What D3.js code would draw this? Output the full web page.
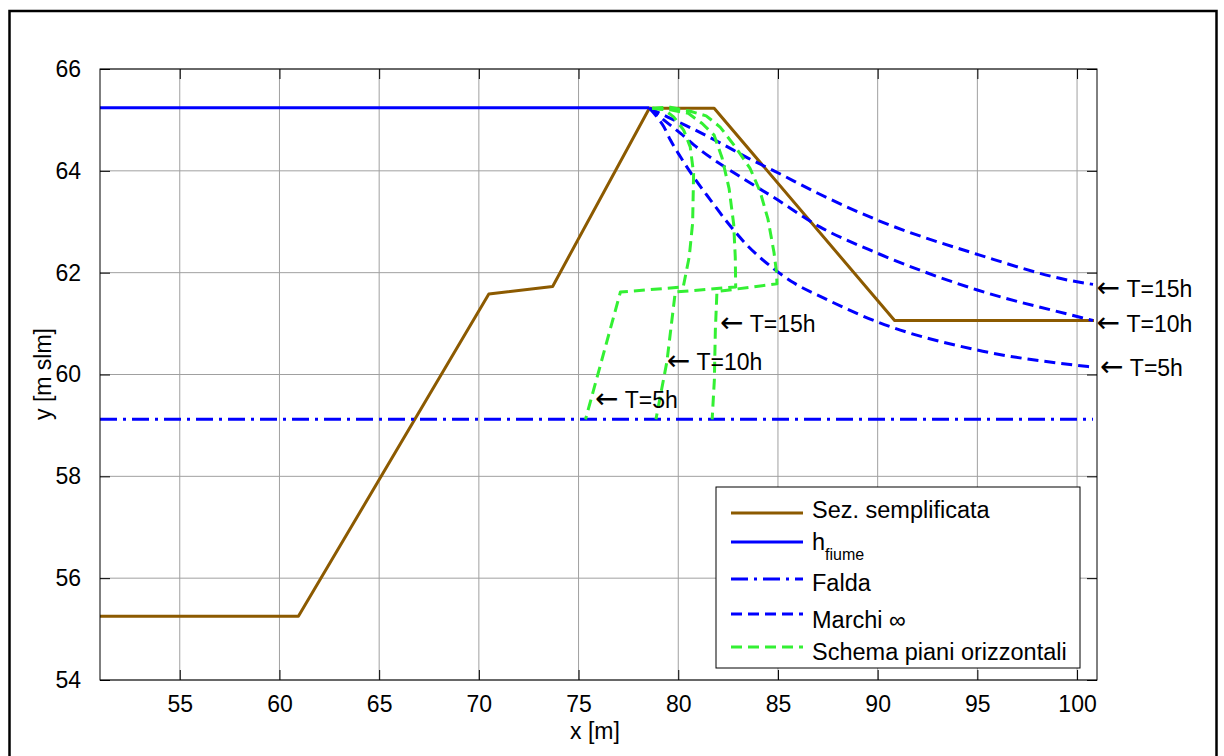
<!DOCTYPE html>
<html>
<head>
<meta charset="utf-8">
<script src="https://cdn.jsdelivr.net/npm/d3@7/dist/d3.min.js"></script>
<style>
body { margin: 0; background: #fff; }
svg text { font-family: "Liberation Sans", Arial, sans-serif; fill: #000; }
</style>
</head>
<body>
<svg id="chart" width="1224" height="756"></svg>
<script>
// values (x [m], y [m slm])
var xTicks = [55, 60, 65, 70, 75, 80, 85, 90, 95, 100];
var yTicks = [54, 56, 58, 60, 62, 64, 66];

var sezX = [51, 60.95, 70.5, 73.7, 78.55, 81.8, 90.85, 100.85];
var sezY = [55.25, 55.25, 61.58, 61.73, 65.23, 65.23, 61.06, 61.06];

var fiumeX = [51, 78.55];
var fiumeY = [65.24, 65.24];

var faldaX = [51, 100.8];
var faldaY = [59.12, 59.12];

// Marchi, three times
var marchi5X  = [78.56, 78.93, 79.27, 79.6, 80.1, 80.77, 81.61, 82.44, 83.45, 84.78, 85.79, 87.2, 90, 95, 100.7];
var marchi5Y  = [65.23, 65.06, 64.87, 64.61, 64.28, 63.88, 63.43, 63.0, 62.54, 62.08, 61.8, 61.52, 61.03, 60.48, 60.15];
var marchi10X = [78.56, 79.27, 80.1, 81.1, 82.44, 83.45, 84.78, 87.1, 90, 95, 100, 100.8];
var marchi10Y = [65.23, 65.0, 64.74, 64.41, 64.05, 63.8, 63.48, 62.9, 62.38, 61.66, 61.14, 61.06];
var marchi15X = [78.56, 79.5, 80.7, 82.1, 83.5, 84.8, 87.0, 90, 95, 100, 100.8];
var marchi15Y = [65.23, 65.05, 64.83, 64.55, 64.25, 64.0, 63.56, 63.03, 62.36, 61.82, 61.77];

// schema piani orizzontali, three times
var piani5X  = [78.7, 79.3, 79.77, 80.27, 80.6, 80.77, 80.72, 80.55, 80.25, 77.1, 75.35];
var piani5Y  = [65.23, 65.2, 65.06, 64.8, 64.47, 63.95, 62.97, 62.31, 61.72, 61.62, 59.12];
var piani10X = [78.7, 79.6, 80.5, 81.2, 81.8, 82.2, 82.55, 82.78, 82.86, 82.88, 79.85, 79.43, 78.88];
var piani10Y = [65.23, 65.2, 65.13, 64.93, 64.7, 64.25, 63.65, 62.95, 62.3, 61.72, 61.62, 60.25, 59.12];
var piani15X = [78.7, 79.6, 80.6, 81.4, 82.1, 82.9, 83.6, 84.1, 84.5, 84.8, 84.93, 84.95, 81.94, 81.86, 81.81, 81.7];
var piani15Y = [65.23, 65.25, 65.17, 65.08, 64.86, 64.45, 64.05, 63.6, 63.05, 62.4, 62.0, 61.78, 61.63, 60.87, 59.89, 59.12];

// arrow labels
var noteText = ["T=5h", "T=10h", "T=15h", "T=15h", "T=10h", "T=5h"];
var noteX = [75.82, 79.42, 82.09, 100.98, 100.98, 101.15];
var noteY = [59.5, 60.25, 61.0, 61.69, 61.0, 60.12];

var legendText = ["Sez. semplificata", "h", "Falda", "Marchi \u221e", "Schema piani orizzontali"];
var legendSub  = ["", "fiume", "", "", ""];

var brown = "#8c5a00", blue = "#0000ff", green = "#33f033";

var svg = d3.select("#chart");
svg.append("rect").attr("width", 1224).attr("height", 756).attr("fill", "#fff");

// outer figure frame
svg.append("rect")
    .attr("x", 9.5).attr("y", 11).attr("width", 1207).attr("height", 760)
    .attr("fill", "none").attr("stroke", "#000").attr("stroke-width", 2.5);

var axL = 100, axR = 1097, axT = 69, axB = 680;

var x = d3.scaleLinear().domain([51, 101]).range([axL, axR]);
var y = d3.scaleLinear().domain([54, 66]).range([axB, axT]);

var plot = svg.append("g");

// grid
plot.selectAll("line.gx").data(xTicks).enter().append("line")
    .attr("class", "gx")
    .attr("x1", function(d) { return x(d) }).attr("x2", function(d) { return x(d) })
    .attr("y1", axT).attr("y2", axB)
    .attr("stroke", "#a0a0a0").attr("stroke-width", 1);

plot.selectAll("line.gy").data(yTicks).enter().append("line")
    .attr("class", "gy")
    .attr("x1", axL).attr("x2", axR)
    .attr("y1", function(d) { return y(d) }).attr("y2", function(d) { return y(d) })
    .attr("stroke", "#a0a0a0").attr("stroke-width", 1);

function pairs(xs, ys)
{
    return xs.map(function(v, i) { return [v, ys[i]] });
}

var straight = d3.line().x(function(d) { return x(d[0]) }).y(function(d) { return y(d[1]) });
var smooth = d3.line().x(function(d) { return x(d[0]) }).y(function(d) { return y(d[1]) }).curve(d3.curveMonotoneX);

function draw(path, color, dash)
{
    plot.append("path")
        .attr("d", path)
        .attr("fill", "none")
        .attr("stroke", color)
        .attr("stroke-width", 3)
        .attr("stroke-linejoin", "round")
        .attr("stroke-dasharray", dash);
}

draw(straight(pairs(sezX, sezY)), brown, null);
draw(straight(pairs(fiumeX, fiumeY)), blue, null);
draw(straight(pairs(faldaX, faldaY)), blue, "17,6,3,6");

[[marchi5X, marchi5Y], [marchi10X, marchi10Y], [marchi15X, marchi15Y]].forEach(function(s) {
    draw(smooth(pairs(s[0], s[1])), blue, "11,6");
});

[[piani5X, piani5Y], [piani10X, piani10Y], [piani15X, piani15Y]].forEach(function(s) {
    draw(straight(pairs(s[0], s[1])), green, "11,6");
});

// axes box and inward ticks
var xAxisB = d3.axisBottom(x).tickValues(xTicks).tickSizeInner(-10).tickSizeOuter(0).tickPadding(16);
var xAxisT = d3.axisTop(x).tickValues(xTicks).tickSizeInner(-10).tickSizeOuter(0).tickFormat("");
var yAxisL = d3.axisLeft(y).tickValues(yTicks).tickSizeInner(-10).tickSizeOuter(0).tickPadding(19);
var yAxisR = d3.axisRight(y).tickValues(yTicks).tickSizeInner(-10).tickSizeOuter(0).tickFormat("");

function styleAxis(g)
{
    g.select(".domain").remove();
    g.selectAll(".tick line").attr("stroke", "#000").attr("stroke-width", 1);
    g.selectAll(".tick text").attr("font-size", 23).attr("font-family", "Liberation Sans, Arial, sans-serif").attr("fill", "#000");
}

svg.append("g").attr("transform", "translate(0," + axB + ")").call(xAxisB).call(styleAxis);
svg.append("g").attr("transform", "translate(0," + axT + ")").call(xAxisT).call(styleAxis);
svg.append("g").attr("transform", "translate(" + axL + ",0)").call(yAxisL).call(styleAxis);
svg.append("g").attr("transform", "translate(" + axR + ",0)").call(yAxisR).call(styleAxis);

svg.append("rect")
    .attr("x", axL).attr("y", axT).attr("width", axR - axL).attr("height", axB - axT)
    .attr("fill", "none").attr("stroke", "#000").attr("stroke-width", 1);

svg.append("text")
    .attr("x", 595).attr("y", 739)
    .attr("text-anchor", "middle").attr("font-size", 23)
    .text("x [m]");

svg.append("text")
    .attr("transform", "translate(51,374) rotate(-90)")
    .attr("text-anchor", "middle").attr("font-size", 23)
    .text("y [m slm]");

// arrow labels: thin arrow from DejaVu, text in the axes font
var notes = svg.selectAll("text.note").data(noteText).enter().append("text")
    .attr("class", "note")
    .attr("x", function(d, i) { return x(noteX[i]) })
    .attr("y", function(d, i) { return y(noteY[i]) })
    .attr("dy", "0.35em")
    .attr("font-size", 23);

notes.append("tspan")
    .attr("font-family", "DejaVu Sans")
    .attr("font-size", 28)
    .text("\u2190");

notes.append("tspan")
    .text(function(d) { return "\u00a0" + d });

// legend
var legend = svg.append("g");
legend.append("rect")
    .attr("x", 716).attr("y", 487).attr("width", 364).attr("height", 181)
    .attr("fill", "#fff").attr("stroke", "#000").attr("stroke-width", 1);

var rowLine = [513, 542, 579, 614, 647];
var rowText = [518, 550, 591, 628, 660];
var rowColor = [brown, blue, blue, blue, green];
var rowDash = [null, null, "17,6,3,6", "11,6", "11,6"];

legendText.forEach(function(t, i) {
    legend.append("line")
        .attr("x1", 731).attr("x2", 803)
        .attr("y1", rowLine[i]).attr("y2", rowLine[i])
        .attr("stroke", rowColor[i]).attr("stroke-width", 3)
        .attr("stroke-dasharray", rowDash[i]);

    var label = legend.append("text")
        .attr("x", 812).attr("y", rowText[i])
        .attr("font-size", 23.5)
        .text(t);

    if(legendSub[i])
    {
        label.append("tspan").attr("font-size", 16).attr("dy", 10).text(legendSub[i]);
    }
});
</script>
</body>
</html>
